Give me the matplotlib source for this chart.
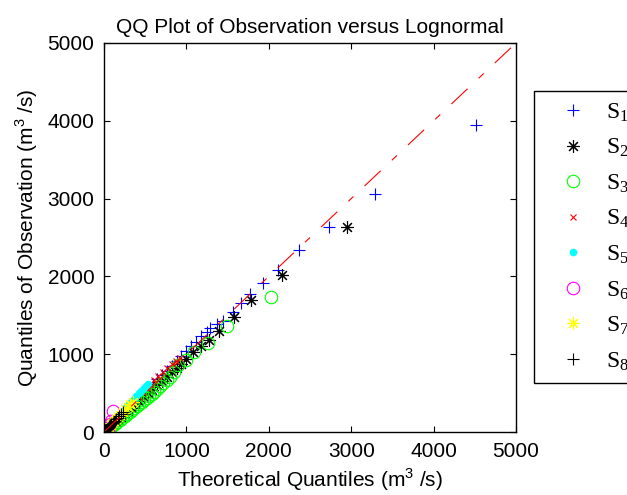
import numpy as np
import matplotlib
matplotlib.use('Agg')
from matplotlib import pyplot as plt

plt.rcParams['font.family'] = ['Liberation Sans', 'DejaVu Sans']
plt.rcParams['mathtext.fontset'] = 'custom'
plt.rcParams['mathtext.rm'] = 'Liberation Sans'
plt.rcParams['lines.scale_dashes'] = False

x1 = [15, 35, 60, 90, 120, 150, 185, 220, 260, 300, 345, 390, 440, 490, 540, 590, 645, 700, 760, 820,
      880, 940, 1000, 1060, 1120, 1180, 1246, 1287, 1367, 1448, 1570, 1663, 1772, 1925, 2108, 2367, 2727, 3286, 4510]
y1 = [20, 40, 70, 100, 130, 165, 200, 240, 280, 320, 365, 410, 460, 510, 565, 620, 675, 730, 790, 850,
      915, 975, 1040, 1100, 1160, 1230, 1289, 1333, 1388, 1431, 1540, 1662, 1770, 1911, 2080, 2340, 2640, 3065, 3945]

x2 = [20, 45, 75, 105, 140, 175, 210, 250, 290, 335, 380, 430, 480, 530, 585, 640, 700, 760, 820, 880,
      940, 1000, 1084, 1173, 1278, 1396, 1582, 1788, 2158, 2950]
y2 = [20, 40, 65, 95, 125, 160, 195, 230, 270, 310, 355, 400, 450, 495, 545, 600, 655, 710, 765, 820,
      880, 935, 1032, 1109, 1183, 1302, 1481, 1700, 2022, 2635]

x3 = [40, 70, 100, 130, 160, 190, 220, 250, 280, 310, 340, 370, 400, 430, 460, 490, 520, 550, 580, 610,
      640, 680, 720, 760, 800, 850, 902, 995, 1096, 1265, 1497, 2023]
y3 = [25, 50, 75, 100, 125, 150, 180, 205, 230, 255, 280, 305, 335, 360, 385, 410, 440, 465, 490, 520,
      550, 590, 630, 670, 710, 770, 861, 925, 1028, 1144, 1366, 1737]

x4 = [10, 30, 55, 80, 110, 140, 175, 210, 250, 290, 330, 375, 420, 470, 520, 560, 610, 660, 710, 760, 820, 870, 920]
y4 = [15, 35, 60, 90, 120, 155, 190, 230, 270, 315, 360, 405, 455, 510, 560, 620, 670, 720, 770, 820, 870, 910, 950]

x5 = [20, 45, 70, 95, 120, 150, 180, 210, 240, 270, 300, 330, 360, 390, 420, 450, 480, 510, 540]
y5 = [25, 55, 85, 115, 145, 180, 215, 250, 285, 320, 355, 390, 425, 460, 495, 530, 560, 590, 620]

x6 = [2, 8, 15, 22, 30, 38, 46, 55, 65, 75, 90, 113]
y6 = [3, 10, 18, 27, 36, 46, 57, 70, 85, 105, 140, 275]

x7 = [5, 15, 30, 45, 60, 80, 100, 125, 150, 175, 200, 230, 260, 290, 320, 350]
y7 = [8, 20, 35, 52, 70, 92, 115, 140, 168, 195, 222, 255, 290, 325, 355, 385]

x8 = [3, 10, 18, 26, 35, 45, 55, 66, 78, 90, 104, 118, 133, 150, 168, 188, 210, 232]
y8 = [5, 12, 20, 29, 38, 49, 60, 72, 85, 98, 113, 128, 145, 162, 182, 205, 232, 260]

ref_line = [0, 5000]
ticks = [0, 1000, 2000, 3000, 4000, 5000]
names = ['S_1', 'S_2', 'S_3', 'S_4', 'S_5', 'S_6', 'S_7', 'S_8']

fig = plt.figure(figsize=(6.27, 4.95), dpi=100)
ax = fig.add_axes([104/627, 1-432/495, 412/627, 389/495])

asterisk = (8, 2, 0)
h = []
h += ax.plot(x1, y1, '+', color=(0, 0, 1), ms=9, mew=0.8, ls='none')
h += ax.plot(x2, y2, marker=asterisk, color='k', ms=9, mew=0.8, ls='none')
h += ax.plot(x3, y3, 'o', mfc='none', mec=(0, 1, 0), ms=9, mew=0.8, ls='none')
h += ax.plot(x4, y4, 'x', color=(1, 0, 0), ms=4.5, mew=0.8, ls='none')
h += ax.plot(x5, y5, 'o', color=(0, 1, 1), mec='none', ms=5.5, ls='none')
h += ax.plot(x6, y6, 'o', mfc='none', mec=(1, 0, 1), ms=9, mew=0.8, ls='none')
h += ax.plot(x7, y7, marker=asterisk, color=(1, 1, 0), ms=9, mew=0.8, ls='none')
h += ax.plot(x8, y8, '+', color='k', ms=9, mew=0.8, ls='none')

# reference line
ax.plot(ref_line, ref_line, color=(1, 0, 0), lw=0.8, ls=(0, (16, 11, 5, 11)))

ax.set_xlim(0, 5000)
ax.set_ylim(0, 5000)
ax.set_xticks(ticks)
ax.set_yticks(ticks)
ax.tick_params(direction='in', top=True, right=True, length=4, width=0.8, labelsize=15, pad=7)
for s in ax.spines.values():
    s.set_linewidth(1.0)

ax.set_title('QQ Plot of Observation versus Lognormal', fontsize=15, pad=7)
ax.set_xlabel('Theoretical Quantiles (m$^3$ /s)', fontsize=15, labelpad=4)
ax.set_ylabel('Quantiles of Observation (m$^3$ /s)', fontsize=15, labelpad=5)

leg = ax.legend(h, [r'$\mathregular{%s}$' % n for n in names], loc='upper left',
                bbox_to_anchor=(534/627, 1-91/495), bbox_transform=fig.transFigure,
                borderaxespad=0, borderpad=0.45, handlelength=2.4, handletextpad=0.2,
                labelspacing=0.56, fancybox=False, framealpha=1,
                prop={'family': 'Liberation Serif', 'size': 17})
leg.get_frame().set_edgecolor('k')
leg.get_frame().set_linewidth(1.0)

fig.savefig('out.png', dpi=100)
